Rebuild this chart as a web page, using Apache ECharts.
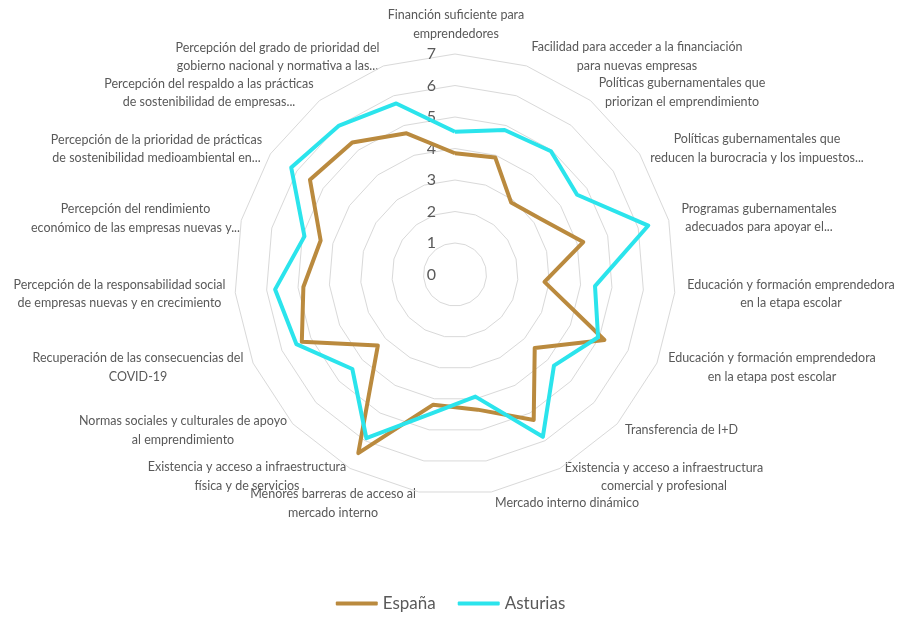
<!DOCTYPE html>
<html>
<head>
<meta charset="utf-8">
<script src="https://cdn.jsdelivr.net/npm/echarts@6/dist/echarts.min.js"></script>
<style>
html,body{margin:0;padding:0;background:#fff;}
#chart{width:901px;height:617px;}
</style>
</head>
<body>
<div id="chart"></div>
<script>
// Categories, clockwise from the top
const categories = [
  'Financión suficiente para\nemprendedores',
  'Facilidad para acceder a la financiación\npara nuevas empresas',
  'Políticas gubernamentales que\npriorizan el emprendimiento',
  'Políticas gubernamentales que\nreducen la burocracia y los impuestos...',
  'Programas gubernamentales\nadecuados para apoyar el...',
  'Educación y formación emprendedora\nen la etapa escolar',
  'Educación y formación emprendedora\nen la etapa post escolar',
  'Transferencia de I+D',
  'Existencia y acceso a infraestructura\ncomercial y profesional',
  'Mercado interno dinámico',
  'Menores barreras de acceso al\nmercado interno',
  'Existencia y acceso a infraestructura\nfísica y de servicios',
  'Normas sociales y culturales de apoyo\nal emprendimiento',
  'Recuperación de las consecuencias del\nCOVID-19',
  'Percepción de la responsabilidad social\nde empresas nuevas y en crecimiento',
  'Percepción del rendimiento\neconómico de las empresas nuevas y...',
  'Percepción de la prioridad de prácticas\nde sostenibilidad medioambiental en...',
  'Percepción del respaldo a las prácticas\nde sostenibilidad de empresas...',
  'Percepción del grado de prioridad del\ngobierno nacional y normativa a las...'
];
const espana   = [3.85, 3.93, 2.90, 3.24, 4.20, 2.85, 5.18, 3.44, 5.25, 4.35, 4.19, 6.45, 3.33, 5.31, 4.83, 4.40, 5.50, 5.31, 4.74];
const asturias = [4.53, 4.85, 4.96, 4.63, 6.33, 4.46, 4.96, 4.27, 5.86, 3.93, 4.47, 5.91, 4.43, 5.50, 5.73, 4.93, 6.21, 5.99, 5.74];
const seriesNames = ['España', 'Asturias'];
const axisMin = 0, axisMax = 7, axisStep = 1;

// Layout (label anchor centres, px)
const labelPos = [
  [456, 24.5], [637, 56.5], [682, 92.5], [757, 148.5], [759, 218], [791, 294],
  [772, 367.5], [681.5, 430], [664, 477], [567, 503], [333, 503.5], [247, 476.5],
  [183, 430.5], [138, 367.5], [119.5, 294], [135.5, 218.5], [156.5, 149], [209, 93], [277.5, 57]
];
const CX = 455, CY = 274.5, R = 220.5;
const colors = ['#BA8A3E', '#2BE4EC'];
const textColor = '#595959';
const FONT = 'Lato, "Open Sans", sans-serif';

// ECharts radar runs counter-clockwise; reorder so the picture runs clockwise
const order = [0];
for (let i = categories.length - 1; i >= 1; i--) order.push(i);
const reorder = arr => order.map(i => arr[i]);

const chart = echarts.init(document.getElementById('chart'), null, {renderer: 'canvas'});
const option = {
  animation: false,
  backgroundColor: '#fff',
  color: colors,
  legend: {
    bottom: 0,
    left: 'center',
    data: seriesNames,
    icon: 'roundRect',
    itemWidth: 42,
    itemHeight: 4,
    itemGap: 22,
    textStyle: {fontFamily: FONT, fontSize: 17, color: textColor}
  },
  radar: {
    center: [CX, CY],
    radius: R,
    startAngle: 90,
    shape: 'polygon',
    splitNumber: (axisMax - axisMin) / axisStep,
    indicator: reorder(categories).map(n => ({name: n, min: axisMin, max: axisMax})),
    axisName: {show: false},
    axisLine: {show: false},
    axisTick: {show: false},
    axisLabel: {show: false},
    splitArea: {show: false},
    splitLine: {lineStyle: {color: '#D9D9D9', width: 1}}
  },
  polar: {center: [CX, CY], radius: R},
  angleAxis: {type: 'value', min: 0, max: 360, startAngle: 90, show: false},
  radiusAxis: {
    type: 'value', min: axisMin, max: axisMax, interval: axisStep,
    axisLine: {show: false}, axisTick: {show: false}, splitLine: {show: false},
    axisLabel: {show: true, color: textColor, fontFamily: FONT, fontSize: 16, margin: 19}
  },
  series: [{
    type: 'radar',
    symbol: 'none',
    data: [
      {name: seriesNames[0], value: reorder(espana), lineStyle: {width: 4, color: colors[0]}, itemStyle: {color: colors[0]}},
      {name: seriesNames[1], value: reorder(asturias), lineStyle: {width: 4, color: colors[1]}, itemStyle: {color: colors[1]}}
    ]
  }],
  graphic: categories.map((c, i) => ({
    type: 'text',
    x: labelPos[i][0],
    y: labelPos[i][1],
    silent: true,
    style: {
      text: c,
      align: 'center',
      verticalAlign: 'middle',
      font: '12.5px ' + FONT,
      lineHeight: 18.5,
      fill: textColor
    }
  }))
};
chart.setOption(option);
</script>
</body>
</html>
